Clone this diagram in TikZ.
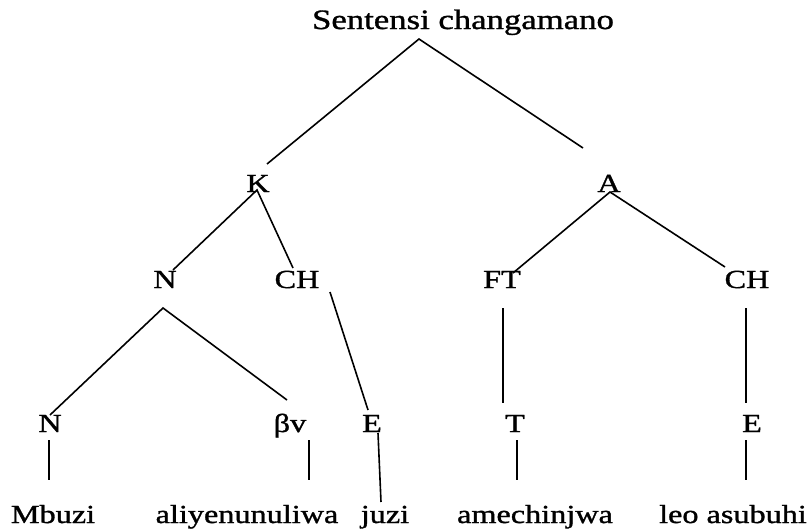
\documentclass[tikz,border=0pt]{standalone}
\usepackage{fontspec}
\setmainfont{Liberation Serif}[FakeStretch=1.24,FakeBold=1.2]
\tikzset{lbl/.style={inner sep=0pt,anchor=base,font=\fontsize{26}{30}\selectfont}}
\tikzset{edge/.style={line width=1.6pt}}

\begin{document}
\begin{tikzpicture}[x=1pt,y=-1pt]
      \useasboundingbox (0,0) rectangle (811,530);

      \node[lbl,font=\fontsize{28}{32}\selectfont] at (463,29) (S) {Sentensi changamano};
      \node[lbl] at (258,192) (K) {K};
      \node[lbl] at (609,192) (A) {A};
      \node[lbl] at (165,288) (N) {N};
      \node[lbl] at (297,288) (CHk) {CH};
      \node[lbl] at (502,288) (FT) {FT};
      \node[lbl] at (747,288) (CHa) {CH};
      \node[lbl] at (50,432) (Nb) {N};
      \node[lbl] at (290,432) (Bv) {βv};
      \node[lbl] at (372,432) (Ek) {E};
      \node[lbl] at (515,432) (T) {T};
      \node[lbl] at (752,432) (Ea) {E};
      \node[lbl] at (53,523) (w1) {Mbuzi};
      \node[lbl] at (247,523) (w2) {aliyenunuliwa};
      \node[lbl] at (385,523) (w3) {juzi};
      \node[lbl] at (535,523) (w4) {amechinjwa};
      \node[lbl] at (733,523) (w5) {leo asubuhi};

      \coordinate (S-foot) at (419,39);
      \coordinate (K-top) at (267,164);
      \coordinate (A-top) at (583,148);
      \coordinate (K-foot) at (257,190);
      \coordinate (N-top) at (173,270);
      \coordinate (CHk-top) at (293,268);
      \coordinate (A-foot) at (610,192);
      \coordinate (FT-top) at (513,273);
      \coordinate (CHa-top) at (725,267);
      \coordinate (N-foot) at (163,308);
      \coordinate (Nb-top) at (50,415);
      \coordinate (Bv-top) at (287,400);
      \coordinate (CHk-foot) at (330,292);
      \coordinate (Ek-top) at (368,410);
      \coordinate (FT-foot) at (503,308);
      \coordinate (T-top) at (503,403);
      \coordinate (CHa-foot) at (746,308);
      \coordinate (Ea-top) at (746,403);

      \draw[edge] (K-top) -- (S-foot) -- (A-top);
      \draw[edge] (N-top) -- (K-foot) -- (CHk-top);
      \draw[edge] (FT-top) -- (A-foot) -- (CHa-top);
      \draw[edge] (Nb-top) -- (N-foot) -- (Bv-top);
      \draw[edge] (CHk-foot) -- (Ek-top);
      \draw[edge] (FT-foot) -- (T-top);
      \draw[edge] (CHa-foot) -- (Ea-top);

      \draw[edge] (49,440) -- (49,480);
      \draw[edge] (309,440) -- (309,480);
      \draw[edge] (378,433) -- (381,502);
      \draw[edge] (517,440) -- (517,480);
      \draw[edge] (746,440) -- (746,480);
\end{tikzpicture}
\end{document}
